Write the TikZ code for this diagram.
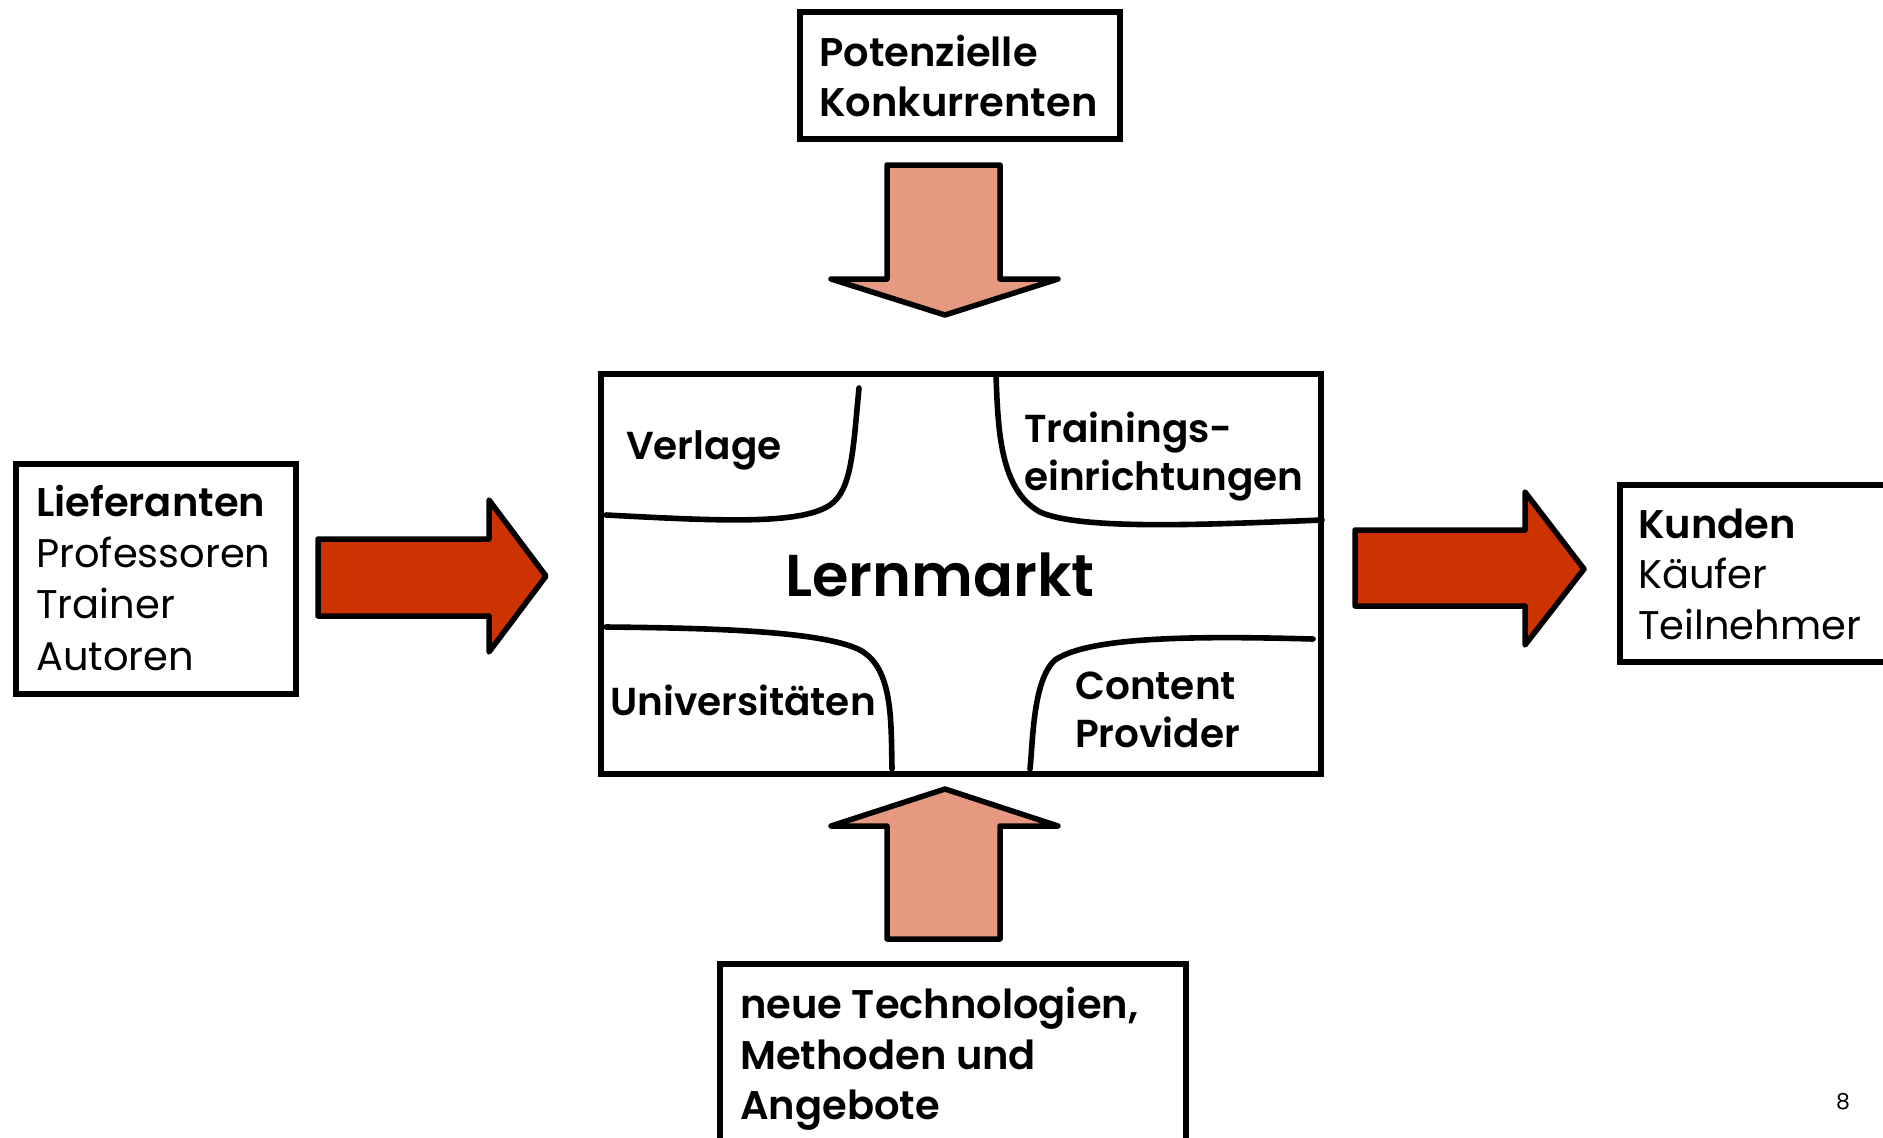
\documentclass[tikz,border=0pt]{standalone}
\usepackage{fontspec}
\setmainfont{Poppins}[BoldFont={Poppins SemiBold}]
\definecolor{arrowred}{RGB}{204,51,0}
\definecolor{arrowsalmon}{RGB}{229,153,128}
\begin{document}
\begin{tikzpicture}[x=1pt,y=-1pt,
  box/.style={draw, line width=5.5pt, inner sep=0pt, anchor=north west},
  fat/.style={draw, line width=5.5pt, line join=round},
  sep/.style={line width=5.6pt, line cap=round},
  txt/.style={anchor=base west, inner sep=0pt, font=\fontsize{40}{48}\selectfont},
  btxt/.style={anchor=base west, inner sep=0pt, font=\fontsize{40}{48}\selectfont\bfseries},
  mtxt/.style={anchor=base west, inner sep=0pt, font=\fontsize{39}{46}\selectfont\bfseries}]
\path[use as bounding box] (0,0) rectangle (1883,1138);
\clip (0,0) rectangle (1883,1138);

% boxes
\node[box, minimum width=320pt, minimum height=127pt] (pot) at (797,9) {};
\node[box, minimum width=720pt, minimum height=400pt] (markt) at (598,371) {};
\node[box, minimum width=280pt, minimum height=230pt] (lief) at (13,461) {};
\node[box, minimum width=300pt, minimum height=177pt] (kund) at (1617,482) {};
\node[box, minimum width=466pt, minimum height=250pt] (neu) at (717,961) {};

% arrows
\draw[fat, fill=arrowsalmon] (887,165) -- (1000,165) -- (1000,279) -- (1058,279) -- (945,315) -- (831,279) -- (887,279) -- cycle;
\draw[fat, fill=arrowsalmon] (887,939) -- (1000,939) -- (1000,826) -- (1058,826) -- (945,789) -- (831,826) -- (887,826) -- cycle;
\draw[fat, fill=arrowred] (318,539) -- (489,539) -- (489,500) -- (546,576) -- (489,652) -- (489,616) -- (318,616) -- cycle;
\draw[fat, fill=arrowred] (1355,530) -- (1525,530) -- (1525,492) -- (1584,569) -- (1525,645) -- (1525,606) -- (1355,606) -- cycle;

% separators in the market box
\draw[sep] (606,515) .. controls (720,521) and (800,525) .. (830,505) .. controls (852,490) and (853,450) .. (859,388);
\draw[sep] (996,375) .. controls (998,430) and (1000,490) .. (1040,512) .. controls (1080,530) and (1200,525) .. (1322,520);
\draw[sep] (606,627) .. controls (700,628) and (820,630) .. (860,650) .. controls (893,668) and (891,720) .. (892,769);
\draw[sep] (1313,639) .. controls (1200,636) and (1090,636) .. (1055,660) .. controls (1033,680) and (1033,740) .. (1030,769);

% texts
\node[btxt] (pot1) at (819,66) {Potenzielle};
\node[btxt] (pot2) at (819,116) {Konkurrenten};

\node[btxt] (lief1) at (36,516) {Lieferanten};
\node[txt] (lief2) at (36,567) {Professoren};
\node[txt] (lief3) at (36,618) {Trainer};
\node[txt] (lief4) at (36,670) {Autoren};

\node[btxt] (kund1) at (1638,538) {Kunden};
\node[txt] (kund2) at (1638,588) {Käufer};
\node[txt] (kund3) at (1638,639) {Teilnehmer};

\node[mtxt] (verl) at (626,459) {Verlage};
\node[mtxt] (tr1) at (1024,442) {Trainings-};
\node[mtxt] (tr2) at (1024,490) {einrichtungen};
\node[anchor=base west, inner sep=0pt, font=\fontsize{59}{68}\selectfont\bfseries] (lern) at (785,596) {Lernmarkt};
\node[mtxt] (uni) at (610,715) {Universitäten};
\node[mtxt] (cp1) at (1075,699) {Content};
\node[mtxt] (cp2) at (1075,747) {Provider};

\node[btxt] (neu1) at (740,1018) {neue Technologien,};
\node[btxt] (neu2) at (740,1069) {Methoden und};
\node[btxt] (neu3) at (740,1119) {Angebote};

\node[anchor=base, inner sep=0pt, font=\fontsize{22}{26}\selectfont] (pg) at (1843,1109) {8};
\end{tikzpicture}
\end{document}
